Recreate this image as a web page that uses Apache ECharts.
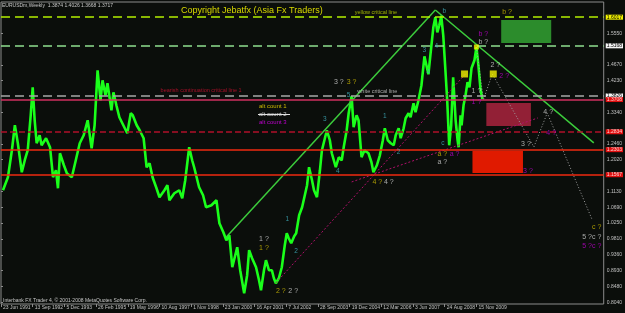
<!DOCTYPE html>
<html>
<head>
<meta charset="utf-8">
<title>EURUSDm,Weekly</title>
<script src="https://cdn.jsdelivr.net/npm/echarts@6.0.0/dist/echarts.min.js"></script>
<style>
html, body { margin: 0; padding: 0; background: #0b0e0b; }
#chart { width: 625px; height: 313px; }
</style>
</head>
<body>
<div id="chart"></div>
<script>
// x = week number counted from 23 Jun 1991
var weeks = [4,14,22,28,34,42,48,54,60,64,68,72,78,82,91,99,105,111,115,119,127,133,143,151,159,167,175,183,189,195,
    201,205,211,215,223,227,233,239,247,255,262,266,274,280,288,294,300,306,314,320,330,336,340,350,360,366,372,380,386,390,
    400,408,414,425,435,441,449,455,461,467,473,477,483,491,497,501,507,515,521,525,531,535,541,547,551,555,561,567,573,577,
    581,586,592,596,602,608,612,618,622,628,632,638,644,648,654,658,664,668,676,682,688,692,698,702,708,712,718,722,728,734,
    742,748,752,759,765,771,775,781,787,793,797,803,807,813,817,823,827,833,837,843,849,855,859,863,867,873,877,881,885,889,
    893,897,901,905,909,913,918,922,924,928,930,934,938,942,946,950,956,960,964,968,972];
var prices = [1.1167,1.1530,1.2284,1.2982,1.2479,1.1670,1.2005,1.2284,1.3261,1.4043,1.3121,1.2479,1.2703,1.2423,1.2619,1.2368,1.1530,1.1725,1.1223,1.2200,
    1.1865,1.1642,1.1530,1.2005,1.2479,1.2703,1.3121,1.2340,1.2982,1.4517,1.3680,1.4238,1.3819,1.4154,1.3401,1.3903,1.3540,1.3205,1.2982,1.2758,
    1.3317,1.3261,1.2982,1.2842,1.2619,1.1809,1.1921,1.1530,1.1223,1.0972,1.1167,1.1307,1.0888,1.1083,1.1167,1.0944,1.1446,1.2368,1.2005,1.1809,
    1.1251,1.1027,1.0692,1.0748,1.0888,1.0246,0.9994,0.9771,0.9911,0.9017,0.9352,0.9576,0.8933,0.8291,0.8794,0.9492,0.9268,0.9017,0.8654,0.8375,
    0.8933,0.9213,0.8933,0.8933,0.8710,0.8570,0.8710,0.9017,0.9631,0.9966,0.9827,0.9687,0.9883,0.9966,1.0469,1.0692,1.0692,1.1307,1.1809,1.1446,
    1.1167,1.0972,1.1725,1.2284,1.2619,1.2842,1.2563,1.2200,1.1809,1.2088,1.2005,1.2368,1.2842,1.3317,1.3792,1.2926,1.3261,1.3121,1.2088,1.2284,
    1.2200,1.1949,1.1670,1.1865,1.2144,1.2563,1.2898,1.2563,1.2479,1.2423,1.2703,1.2898,1.2619,1.2898,1.3177,1.3317,1.3205,1.3596,1.3345,1.3680,
    1.4099,1.4908,1.4657,1.4406,1.4936,1.5718,1.5997,1.5578,1.5774,1.6038,1.5495,1.4601,1.3680,1.2423,1.2982,1.4322,1.3121,1.2563,1.2368,1.3261,
    1.2982,1.3540,1.3819,1.4182,1.4043,1.4573,1.4797,1.5160,1.4657,1.4015,1.3717];

var dateTicks = [0,64,128,192,256,320,384,448,512,576,640,704,768,832,896,960];
var dateLabels = ['23 Jun 1991','13 Sep 1992','5 Dec 1993','26 Feb 1995','19 May 1996','10 Aug 1997','1 Nov 1998','23 Jan 2000',
    '16 Apr 2001','7 Jul 2002','28 Sep 2003','19 Dec 2004','12 Mar 2006','3 Jun 2007','24 Aug 2008','15 Nov 2009'];
var priceTicks = [0.8040,0.8480,0.8930,0.9360,0.9810,1.0250,1.0690,1.1130,1.2020,1.2460,1.3340,1.4230,1.4670,1.5550];

// horizontal objects
var levelValues = [1.6017, 1.5168, 1.3826, 1.3708, 1.2834, 1.2303, 1.1567];
var levelKinds  = ['yellow', 'green', 'white', 'pink', 'reddash', 'red', 'red'];

// trend lines [week, price]
var trendUp   = [[455, 0.9863], [877, 1.6201]];
var trendDown = [[877, 1.6201], [1197, 1.2488]];
var pinkLine1 = [[555, 0.8579], [938, 1.4414]];
var pinkLine2 = [[708, 1.1399], [1084, 1.3186]];
var projection = [[960, 1.5168], [974, 1.3688], [992, 1.4414], [1076, 1.2376], [1103, 1.3325], [1193, 1.0366]];
var squares = [[936, 1.4414], [994, 1.4414], [960, 1.5168]];

// boxes [week1, price1, week2, price2]
var greenBox  = [1010, 1.5922, 1111, 1.5280];
var maroonBox = [980, 1.3604, 1070, 1.2962];
var redBox    = [952, 1.2264, 1054, 1.1650];

var notes = [
    ['yellow critical line', 757, 1.6145, 'lime'],
    ['white critical line', 760, 1.3912, 'white'],
    ['bearish continuation critical line 1', 404, 1.3940, 'red'],
    ['b', 895, 1.6173, 'teal'],
    ['b ?', 1022, 1.6145, 'gold'],
    ['b ?', 974, 1.5523, 'mag'],
    ['b ?', 974, 1.5299, 'white'],
    ['2 ?', 998, 1.4666, 'white'],
    ['2 ?', 1016, 1.4358, 'mag'],
    ['1 ?', 960, 1.3948, 'white'],
    ['1 ?', 960, 1.3641, 'mag'],
    ['3 ?', 682, 1.4199, 'white'],
    ['3 ?', 708, 1.4199, 'gold'],
    ['5', 702, 1.3828, 'teal'],
    ['3', 855, 1.5084, 'teal'],
    ['4', 879, 1.5176, 'teal'],
    ['4', 863, 1.4451, 'teal'],
    ['3', 654, 1.3149, 'teal'],
    ['4', 680, 1.1686, 'teal'],
    ['1', 775, 1.3241, 'teal'],
    ['2', 803, 1.2228, 'teal'],
    ['c', 892, 1.2479, 'teal'],
    ['a ?', 891, 1.2181, 'gold'],
    ['a ?', 916, 1.2181, 'mag'],
    ['a ?', 891, 1.1949, 'white'],
    ['4 ?', 760, 1.1407, 'gold'],
    ['4 ?', 783, 1.1407, 'white'],
    ['3 ?', 1060, 1.2451, 'white'],
    ['4 ?', 1105, 1.3345, 'white'],
    ['4 ?', 1111, 1.2759, 'mag'],
    ['3 ?', 1064, 1.1714, 'mag'],
    ['c ?', 1203, 1.0151, 'gold'],
    ['5 ?c ?', 1193, 0.9872, 'white'],
    ['5 ?c ?', 1193, 0.9612, 'mag'],
    ['1 ?', 531, 0.9807, 'white'],
    ['1 ?', 531, 0.9564, 'gold'],
    ['2 ?', 565, 0.8364, 'gold'],
    ['2 ?', 590, 0.8364, 'white'],
    ['1', 578, 1.0366, 'teal'],
    ['2', 596, 0.9472, 'teal']
];

var FONT = 'Liberation Sans, Arial, sans-serif';
var colors = {
    teal: '#40b0c0', white: '#d0d0d0', gold: '#d0bc00', mag: '#c000d0',
    red: '#d01030', lime: '#c0d800'
};
var levelStyle = {
    yellow:  { line: '#b4f000', type: [9, 5], bg: '#f0f000', fg: '#000000' },
    green:   { line: '#90e090', type: [9, 5], bg: '#f4f4f4', fg: '#000000' },
    white:   { line: '#a8a8a8', type: [9, 5], bg: '#f4f4f4', fg: '#000000' },
    pink:    { line: '#d03060', type: 'solid', bg: '#e01010', fg: '#ffd0d0' },
    reddash: { line: '#b0102a', type: [6, 3], bg: '#e01010', fg: '#ffd0d0' },
    red:     { line: '#f02a10', type: 'solid', bg: '#e01010', fg: '#ffd0d0' }
};

window.onload = function () {
    chartInit();
};

function chartInit() {
    var myChart = echarts.init(document.getElementById('chart'));

    var pricePoints = weeks.map(function (w, i) { return [w, prices[i]]; });

    var levelLines = levelValues.map(function (v, i) {
        var st = levelStyle[levelKinds[i]];
        return {
            yAxis: v,
            lineStyle: { color: st.line, type: st.type, width: 1.5, opacity: 1 },
            label: {
                show: true, position: 'end', distance: 2,
                formatter: v.toFixed(4),
                backgroundColor: st.bg, color: st.fg,
                fontSize: 5, fontFamily: FONT, padding: [0, 1, 0, 1]
            }
        };
    });

    function box(b, color) {
        return [{ coord: [b[0], b[1]], itemStyle: { color: color, opacity: 1 } }, { coord: [b[2], b[3]] }];
    }

    var noteData = notes.map(function (n) {
        var digit = n[3] === 'teal';
        var small = n[0].length > 8;
        return {
            value: [n[1], n[2]],
            label: {
                show: true, position: 'inside', formatter: n[0],
                color: colors[n[3]], fontFamily: FONT,
                fontSize: small ? 5.5 : (digit ? 6.5 : 7)
            }
        };
    });

    var option = {
        backgroundColor: '#0b0e0b',
        animation: false,
        grid: { left: 1, right: 19, top: 2, bottom: 9, show: true, borderColor: '#8c8c8c', borderWidth: 1 },
        xAxis: {
            type: 'value', min: 0, max: 1217,
            splitLine: { show: false },
            axisLine: { show: false },
            axisTick: { show: true, customValues: dateTicks, length: 3, lineStyle: { color: '#8c8c8c' } },
            axisLabel: {
                customValues: dateTicks, align: 'left', margin: 1, padding: [0, 0, 0, 2],
                color: '#c0c0c0', fontSize: 5, fontFamily: FONT,
                formatter: function (v) { return dateLabels[dateTicks.indexOf(v)] || ''; }
            }
        },
        yAxis: {
            type: 'value', position: 'right', min: 0.7990, max: 1.6424,
            splitLine: { show: false },
            axisLine: { show: false },
            axisTick: { show: true, customValues: priceTicks, length: 2, lineStyle: { color: '#8c8c8c' } },
            axisLabel: {
                customValues: priceTicks, margin: 3, color: '#c0c0c0', fontSize: 5, fontFamily: FONT,
                formatter: function (v) { return v.toFixed(4); }
            }
        },
        graphic: [
            { type: 'text', left: 2, top: 3, style: { text: 'EURUSDm,Weekly  1.3874 1.4026 1.3668 1.3717', fill: '#c8c8c8', font: '5px ' + FONT } },
            { type: 'text', left: 3, top: 298, style: { text: 'Interbank FX Trader 4, \u00a9 2001-2008 MetaQuotes Software Corp.', fill: '#c8c8c8', font: '5px ' + FONT } },
            { type: 'text', left: 181, top: 6, style: { text: 'Copyright Jebatfx (Asia Fx Traders)', fill: '#d8d800', font: '9px ' + FONT } },
            { type: 'text', left: 259, top: 103, style: { text: 'alt count 1', fill: colors.gold, font: '6px ' + FONT } },
            { type: 'text', left: 259, top: 111, style: { text: 'alt count 2', fill: colors.white, font: '6px ' + FONT } },
            { type: 'line', shape: { x1: 258, y1: 114.5, x2: 290, y2: 114.5 }, style: { stroke: '#e0e0e0', lineWidth: 1 } },
            { type: 'text', left: 259, top: 119, style: { text: 'alt count 3', fill: colors.mag, font: '6px ' + FONT } }
        ],
        series: [
            {
                name: 'levels', type: 'line', data: [], z: 3,
                markLine: { symbol: 'none', silent: true, data: levelLines },
                markArea: {
                    silent: true,
                    data: [box(greenBox, '#2c8c2c'), box(maroonBox, '#922036'), box(redBox, '#e01a00')]
                }
            },
            {
                name: 'EURUSDm', type: 'line', data: pricePoints, showSymbol: false, z: 2,
                lineStyle: { color: '#1aff1a', width: 2.6 }
            },
            {
                name: 'trend up', type: 'line', data: trendUp, showSymbol: false, z: 4,
                lineStyle: { color: '#3ccc3c', width: 1.5 }
            },
            {
                name: 'trend down', type: 'line', data: trendDown, showSymbol: false, z: 4,
                lineStyle: { color: '#3ccc3c', width: 1.5 }
            },
            {
                name: 'pink 1', type: 'line', data: pinkLine1, showSymbol: false, z: 4,
                lineStyle: { color: '#b0106a', width: 1, type: [2, 2] }
            },
            {
                name: 'pink 2', type: 'line', data: pinkLine2, showSymbol: false, z: 4,
                lineStyle: { color: '#b0106a', width: 1, type: [2, 2] }
            },
            {
                name: 'projection', type: 'line', data: projection, showSymbol: false, z: 4,
                lineStyle: { color: '#a0a0a0', width: 1, type: [1, 2] }
            },
            {
                name: 'squares', type: 'scatter', data: squares, symbol: 'rect', z: 5,
                symbolSize: function (v, p) { return [7, 7, 5][p.dataIndex]; },
                itemStyle: { color: '#f4f400' }
            },
            {
                name: 'notes', type: 'scatter', data: noteData, symbolSize: 0, z: 6,
                labelLayout: { hideOverlap: false }
            }
        ]
    };

    myChart.setOption(option);
}
</script>
</body>
</html>
